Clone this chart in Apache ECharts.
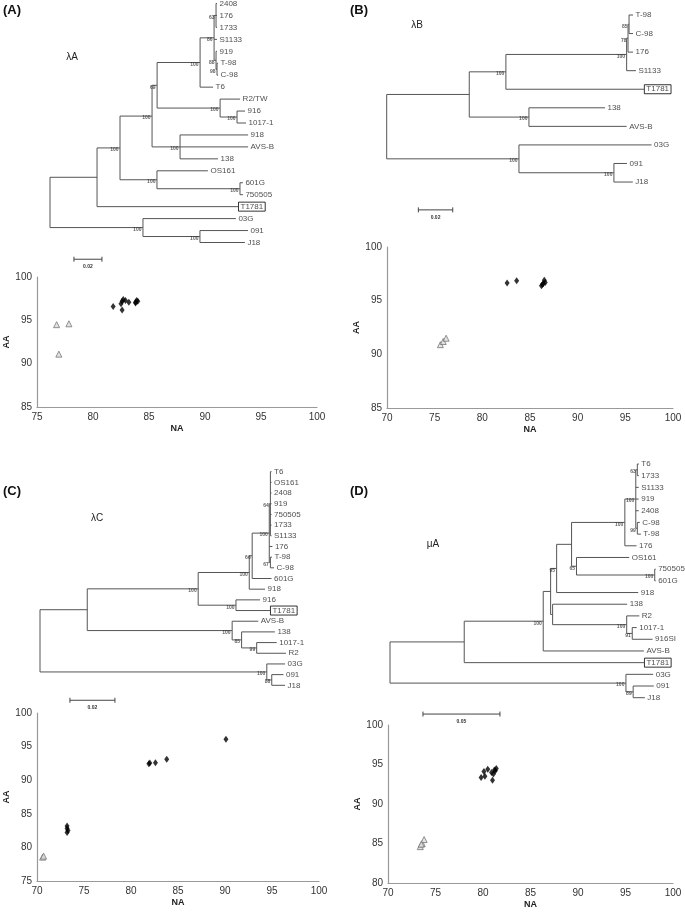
<!DOCTYPE html>
<html><head><meta charset="utf-8">
<script src="https://cdn.jsdelivr.net/npm/echarts@6/dist/echarts.min.js"></script>
<style>html,body{margin:0;padding:0;background:#fff}#c{width:685px;height:913px}</style>
</head><body><div id="c"></div>
<script>
// ---------------- DATA ----------------
// Phylogenetic trees (Newick, branch lengths in substitutions/site, internal labels = bootstrap)
const treeA = "((((((((2408:0.0007,176:0.0007,1733:0.0007)63:0.0014,S1133:0.0021,(919:0.0007,(T-98:0.0007,C-98:0.0007)98:0.0007)88:0.0014)86:0.0100,T6:0.0093)100:0.0307,(R2/TW:0.0143,(916:0.0057,1017-1:0.0064)100:0.0121)100:0.0450)69:0.0036,(918:0.0486,AVS-B:0.0486,138:0.0271)100:0.0200)100:0.0229,(OS161:0.0364,(601G:0.0021,750505:0.0021)100:0.0593)100:0.0264)100:0.0164,T1781:0.1007):0.0336,(03G:0.0664,(091:0.0343,J18:0.0321)100:0.0407)100:0.0664);";
const treeB = "((((((T-98:0.0023,C-98:0.0023)85:0.0006,176:0.0029)78:0.0008,S1133:0.0054)100:0.0702,T1781:0.0802)100:0.0213,(138:0.0442,AVS-B:0.0568)100:0.0347):0.0480,(03G:0.0771,(091:0.0076,J18:0.0110)100:0.0552)100:0.0769);";
const treeC = "(((((((T6:0.0005,OS161:0.0005,2408:0.0005,919:0.0005,750505:0.0005,1733:0.0005,S1133:0.0005)64:0.0005,176:0.0014,(T-98:0.0007,C-98:0.0016)67:0.0005)100:0.0076,601G:0.0086)66:0.0013,918:0.0070)100:0.0227,(916:0.0107,T1781:0.0151)100:0.0168)100:0.0493,(AVS-B:0.0116,(138:0.0148,(1017-1:0.0089,R2:0.0130)99:0.0067)85:0.0042)100:0.0644):0.0210,(03G:0.0081,(091:0.0052,J18:0.0059)88:0.0022)100:0.1008);";
const treeD = "(((((((((T6:0.0010,1733:0.0010)63:0.0010,S1133:0.0019,919:0.0019,2408:0.0019,(C-98:0.0016,T-98:0.0023)99:0.0010)100:0.0071,176:0.0076)100:0.0346,(OS161:0.0342,(750505:0.0006,601G:0.0006)100:0.0508)65:0.0032):0.0097,918:0.0530)95:0.0039,(138:0.0484,(R2:0.0082,(1017-1:0.0029,916SI:0.0132)91:0.0036)100:0.0481):0.0013):0.0048,AVS-B:0.0654)100:0.0513,T1781:0.1167):0.0482,(03G:0.0177,(091:0.0134,J18:0.0076)89:0.0047)100:0.1532);";
const boxedTip = "T1781";
const scaleBarLabels = ["0.02", "0.02", "0.02", "0.05"];
const scaleBarLengths = [0.02, 0.02, 0.02, 0.05];
const treeTitles = ["λA", "λB", "λC", "μA"];
const panelLetters = ["(A)", "(B)", "(C)", "(D)"];

// Scatter: NA identity (x) vs AA identity (y)
const diamondsA = [[81.8,96.6],[82.5,96.9],[82.6,97.2],[82.7,97.4],[82.9,97.3],[82.6,96.2],[83.2,97.1],[83.8,97.1],[83.9,97.3],[84.0,97.2],[83.8,97.0]];
const trianglesA = [[76.75,94.5],[77.85,94.6],[76.95,91.1]];
const diamondsB = [[82.6,96.65],[83.6,96.85],[86.2,96.4],[86.4,96.6],[86.5,96.9],[86.6,96.7],[86.3,96.5]];
const trianglesB = [[75.6,90.9],[75.9,91.2],[76.2,91.5]];
const diamondsC = [[81.9,92.45],[82.0,92.55],[82.6,92.6],[83.8,93.1],[90.1,96.1],[73.2,83.2],[73.2,82.8],[73.3,82.5],[73.2,82.2]];
const trianglesC = [[70.6,78.55],[70.7,78.7]];
const diamondsD = [[79.8,93.35],[80.1,94.1],[80.5,94.4],[80.9,94.0],[81.0,93.0],[81.2,94.3],[81.4,94.5],[81.1,93.8],[80.2,93.5],[81.3,94.2]];
const trianglesD = [[73.4,84.6],[73.6,85.0],[73.8,85.5],[73.5,84.9]];
const naTicksA = [75,80,85,90,95,100];
const aaTicksA = [85,90,95,100];
const naTicksB = [70,75,80,85,90,95,100];
const aaTicksB = [85,90,95,100];
const naTicksC = [70,75,80,85,90,95,100];
const aaTicksC = [75,80,85,90,95,100];
const naTicksD = [70,75,80,85,90,95,100];
const aaTicksD = [80,85,90,95,100];

// ---------------- HELPERS ----------------
function parseNewick(s){
  let i=0;
  function node(){
    const n={children:[],name:'',len:0,boot:''};
    if(s[i]==='('){
      i++; n.children.push(node());
      while(s[i]===','){i++; n.children.push(node());}
      i++;
    }
    let lab='';
    while(i<s.length && !':,);'.includes(s[i])) lab+=s[i++];
    if(n.children.length) n.boot=lab; else n.name=lab;
    if(s[i]===':'){i++; let num=''; while(i<s.length && !',);'.includes(s[i])) num+=s[i++]; n.len=parseFloat(num);}
    return n;
  }
  return node();
}
function layoutTree(root){
  let tip=0; const segs=[], tips=[], boots=[];
  (function walk(n,x){
    n.x=x;
    if(!n.children.length){n.y=tip++; tips.push([n.x,n.y,n.name]); return;}
    n.children.forEach(c=>walk(c,x+c.len));
    const ys=n.children.map(c=>c.y);
    n.y=(ys[0]+ys[ys.length-1])/2;
    segs.push([n.x,ys[0],n.x,ys[ys.length-1]]);
    n.children.forEach(c=>segs.push([n.x,c.y,c.x,c.y]));
    if(n.boot) boots.push([n.x,n.y,n.boot]);
  })(root,0);
  return {segs,tips,boots};
}

// ---------------- LAYOUT ----------------
const FONT = "'Liberation Sans', Arial, sans-serif";
const treeLayouts = [
  {left:50,   top:3.5,   row:11.95, ppu:1400, xmax:0.15, ymax:22, sbStart:0.0171, sbRow:21.4},
  {left:386.7,top:15,    row:18.56, ppu:1720, xmax:0.16, ymax:11, sbStart:0.0184, sbRow:10.5},
  {left:40,   top:471.7, row:10.68, ppu:2250, xmax:0.12, ymax:22, sbStart:0.0133, sbRow:21.4},
  {left:390,  top:464,   row:11.685,ppu:1540, xmax:0.18, ymax:22, sbStart:0.0214, sbRow:21.4}
];
const scatterLayouts = [
  {left:37,  top:277, width:280, height:130, na:naTicksA, aa:aaTicksA, dia:diamondsA, tri:trianglesA, aaGap:24},
  {left:387, top:247, width:286, height:161, na:naTicksB, aa:aaTicksB, dia:diamondsB, tri:trianglesB, aaGap:24},
  {left:37,  top:713, width:282, height:168, na:naTicksC, aa:aaTicksC, dia:diamondsC, tri:trianglesC, aaGap:24},
  {left:388, top:725, width:285, height:158, na:naTicksD, aa:aaTicksD, dia:diamondsD, tri:trianglesD, aaGap:24}
];
const trees = [treeA, treeB, treeC, treeD];
const CLEAR = 'rgba(0,0,0,0)';

const grid=[], xAxis=[], yAxis=[], series=[];
trees.forEach((t,k)=>{
  const g=treeLayouts[k], gi=grid.length;
  grid.push({left:g.left, top:g.top, width:g.xmax*g.ppu, height:g.ymax*g.row});
  xAxis.push({gridIndex:gi, type:'value', min:0, max:g.xmax, show:false});
  yAxis.push({gridIndex:gi, type:'value', min:0, max:g.ymax, inverse:true, show:false});
  const L=layoutTree(parseNewick(t));
  series.push({
    type:'custom', xAxisIndex:gi, yAxisIndex:gi, silent:true, clip:false,
    data:L.segs, encode:{x:[0,2], y:[1,3]},
    renderItem:(p,api)=>{
      const a=api.coord([api.value(0),api.value(1)]), b=api.coord([api.value(2),api.value(3)]);
      return {type:'line', shape:{x1:a[0],y1:a[1],x2:b[0],y2:b[1]}, style:{stroke:'#555',lineWidth:1}};
    }
  });
  series.push({
    type:'scatter', xAxisIndex:gi, yAxisIndex:gi, silent:true, clip:false, symbolSize:1, itemStyle:{color:CLEAR},
    data:L.tips.map(tp=>({value:[tp[0],tp[1]], name:tp[2],
      label: tp[2]===boxedTip ? {borderColor:'#000', borderWidth:1, padding:[1,2,0,2], distance:0} : undefined})),
    label:{show:true, position:'right', distance:2, formatter:'{b}', fontSize:8, color:'#222', fontFamily:FONT},
    labelLayout:{hideOverlap:false}
  });
  series.push({
    type:'scatter', xAxisIndex:gi, yAxisIndex:gi, silent:true, clip:false, symbolSize:1, itemStyle:{color:CLEAR},
    data:L.boots.map(b=>({value:[b[0],b[1]], name:b[2]})),
    label:{show:true, position:'left', distance:1, offset:[0,2], formatter:'{b}', fontSize:5, fontWeight:'bold', color:'#333', fontFamily:FONT}
  });
  series.push({
    type:'custom', xAxisIndex:gi, yAxisIndex:gi, silent:true, clip:false,
    data:[[g.sbStart, g.sbRow, scaleBarLengths[k]]],
    renderItem:(p,api)=>{
      const a=api.coord([api.value(0),api.value(1)]), b=api.coord([api.value(0)+api.value(2),api.value(1)]);
      return {type:'group', children:[
        {type:'line', shape:{x1:a[0],y1:a[1],x2:b[0],y2:b[1]}, style:{stroke:'#444',lineWidth:1}},
        {type:'line', shape:{x1:a[0],y1:a[1]-2.5,x2:a[0],y2:a[1]+2.5}, style:{stroke:'#444',lineWidth:1}},
        {type:'line', shape:{x1:b[0],y1:b[1]-2.5,x2:b[0],y2:b[1]+2.5}, style:{stroke:'#444',lineWidth:1}},
        {type:'text', x:(a[0]+b[0])/2, y:a[1]+5, style:{text:scaleBarLabels[k], fill:'#333', align:'center', verticalAlign:'top', font:'bold 5px '+FONT}}
      ]};
    }
  });

  const s=scatterLayouts[k], si=grid.length;
  grid.push({left:s.left, top:s.top, width:s.width, height:s.height});
  const axCommon={type:'value', splitLine:{show:false}, axisTick:{show:false},
    axisLine:{show:true, lineStyle:{color:'#999', width:1.2}},
    axisLabel:{fontSize:10, color:'#333', fontFamily:FONT, margin:5},
    nameLocation:'middle', nameTextStyle:{fontSize:9, fontWeight:'bold', color:'#222', fontFamily:FONT}};
  xAxis.push(Object.assign({gridIndex:si, min:s.na[0], max:s.na[s.na.length-1], interval:s.na[1]-s.na[0], name:'NA', nameGap:17}, axCommon));
  yAxis.push(Object.assign({gridIndex:si, min:s.aa[0], max:s.aa[s.aa.length-1], interval:s.aa[1]-s.aa[0], name:'AA', nameGap:s.aaGap, nameRotate:90}, axCommon));
  series.push({type:'scatter', xAxisIndex:si, yAxisIndex:si, symbol:'diamond', symbolSize:[5,7],
    itemStyle:{color:'#000'}, data:s.dia});
  series.push({type:'scatter', xAxisIndex:si, yAxisIndex:si, symbol:'triangle', symbolSize:6,
    itemStyle:{color:'#ddd', borderColor:'#777', borderWidth:1}, data:s.tri});
});

const letterPos=[[3,12],[350,12],[3,493],[350,493]];
const titlePos=[[72,57],[417,25],[97,518],[433,544]];
const graphic=[];
panelLetters.forEach((t,k)=>{
  graphic.push({type:'text', left:letterPos[k][0], top:letterPos[k][1]-8, style:{text:t, font:'bold 13px '+FONT, fill:'#111'}});
  graphic.push({type:'text', x:titlePos[k][0], y:titlePos[k][1], style:{text:treeTitles[k], font:'10px '+FONT, fill:'#222', align:'center', verticalAlign:'middle'}});
});

const chart=echarts.init(document.getElementById('c'), null, {renderer:'canvas'});
chart.setOption({animation:false, backgroundColor:'#fff', grid, xAxis, yAxis, series, graphic});
</script></body></html>
